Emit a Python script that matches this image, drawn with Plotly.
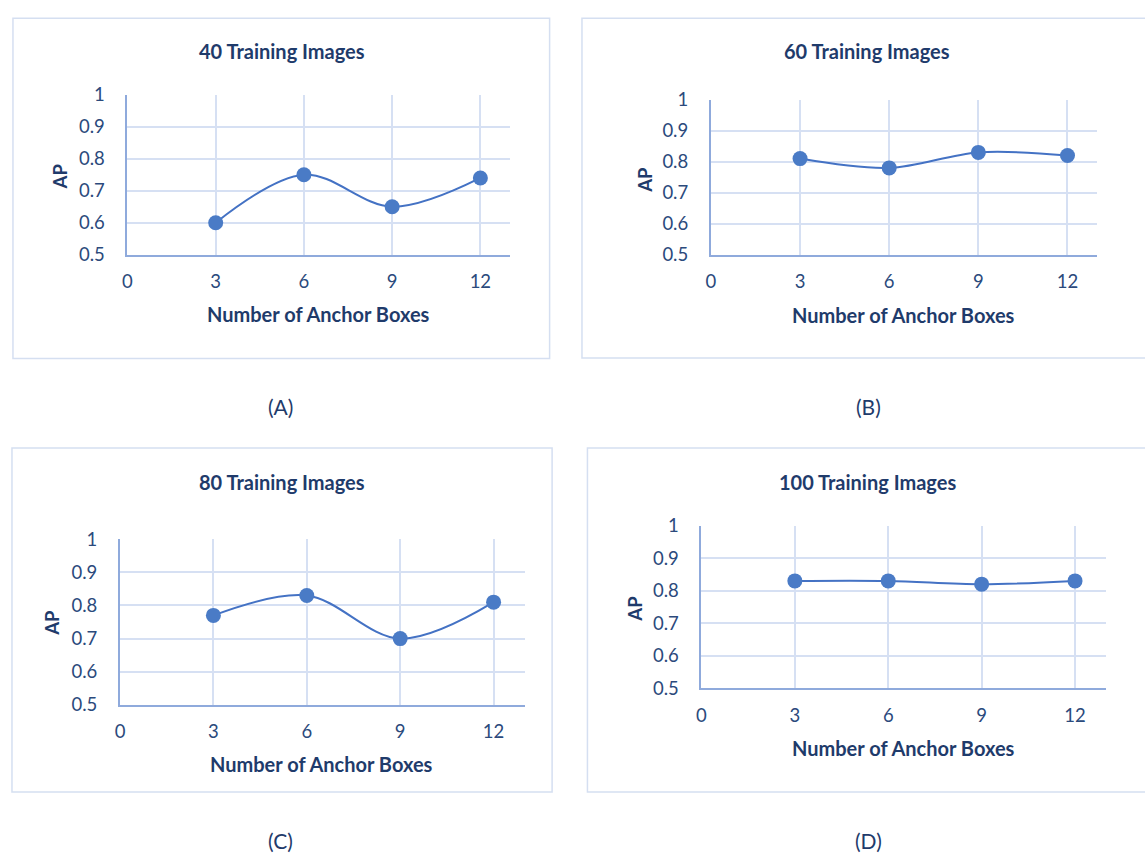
import plotly.graph_objects as go

W, H = 1145, 863

anchor_boxes = [3, 6, 9, 12]
ap_40 = [0.60, 0.75, 0.65, 0.74]
ap_60 = [0.81, 0.78, 0.83, 0.82]
ap_80 = [0.77, 0.83, 0.70, 0.81]
ap_100 = [0.83, 0.83, 0.82, 0.83]

titles = ["40 Training Images", "60 Training Images", "80 Training Images", "100 Training Images"]
captions = ["(A)", "(B)", "(C)", "(D)"]
x_ticks = [0, 3, 6, 9, 12]
y_ticks = [0.5, 0.6, 0.7, 0.8, 0.9, 1.0]
y_tick_text = ["0.5", "0.6", "0.7", "0.8", "0.9", "1"]
x_title = "Number of Anchor Boxes"
y_title = "AP"

FONT = "Lato"
NAVY = "#1F3B6B"
TICK = "#2B4A7C"
GRID = "#D6E0F3"
AXIS = "#8FAADC"
BORDER = "#D5DFF1"
LINE = "#4472C4"
MARK = "#4A7BC6"

def px(x):
    return x / W

def py(y):
    return 1 - y / H

# layout in pixels: plot area (x0, x1, ytop, ybottom), panel box (x0, x1, y0, y1)
panels = [
    dict(data=ap_40, plot=(123, 507, 85, 249), box=(8, 547, 6.5, 355.5), title=(278, 40),
         ap=(55, 169), xt=(315, 310), cap=(277, 405)),
    dict(data=ap_60, plot=(709, 1097, 90, 249), box=(579.5, 1160, 6.5, 355), title=(866, 40),
         ap=(642, 172), xt=(902, 311), cap=(867, 405)),
    dict(data=ap_80, plot=(115.5, 522, 541, 711), box=(7, 549.5, 447.5, 800.5), title=(278, 482),
         ap=(47, 627), xt=(318, 772), cap=(277, 850)),
    dict(data=ap_100, plot=(699.5, 1106, 527, 694), box=(585, 1160, 447.5, 800.5), title=(866.5, 482),
         ap=(633, 612), xt=(902.5, 755), cap=(867, 850)),
]

fig = go.Figure()
shapes = []
annotations = []
layout_axes = {}

for i, p in enumerate(panels):
    n = "" if i == 0 else str(i + 1)
    fig.add_trace(go.Scatter(
        x=anchor_boxes, y=p["data"], mode="lines+markers",
        line=dict(color=LINE, width=2, shape="spline", smoothing=1.0),
        marker=dict(color=MARK, size=15, line=dict(width=0)),
        xaxis="x" + n, yaxis="y" + n, showlegend=False, cliponaxis=False,
    ))
    x0, x1, yt, yb = p["plot"]
    layout_axes["xaxis" + n] = dict(
        domain=[px(x0), px(x1)], range=[0, 13], anchor="y" + n,
        tickvals=x_ticks, showgrid=True, gridcolor=GRID, gridwidth=1.5,
        showline=True, linecolor=AXIS, linewidth=2, zeroline=False,
        ticks="", ticklabelstandoff=9,
        tickfont=dict(family=FONT, size=18.5, color=TICK), fixedrange=True,
    )
    layout_axes["yaxis" + n] = dict(
        domain=[py(yb), py(yt)], range=[0.5, 1.0], anchor="x" + n,
        tickvals=y_ticks, ticktext=y_tick_text, showgrid=True, gridcolor=GRID, gridwidth=1.5,
        showline=True, linecolor=AXIS, linewidth=2, zeroline=False,
        ticks="", ticklabelstandoff=17,
        tickfont=dict(family=FONT, size=18.5, color=TICK), fixedrange=True,
    )
    bx0, bx1, by0, by1 = p["box"]
    shapes.append(dict(type="rect", xref="paper", yref="paper",
                       x0=px(bx0), x1=px(bx1), y0=py(by1), y1=py(by0),
                       line=dict(color=BORDER, width=1.5), layer="below"))
    annotations.append(dict(text="<b>%s</b>" % titles[i], x=px(p["title"][0]), y=py(p["title"][1]),
                            xref="paper", yref="paper", showarrow=False, xanchor="center", yanchor="middle",
                            font=dict(family=FONT, size=20, color=NAVY)))
    annotations.append(dict(text="<b>%s</b>" % y_title, x=px(p["ap"][0]), y=py(p["ap"][1]),
                            xref="paper", yref="paper", showarrow=False, xanchor="center", yanchor="middle",
                            textangle=-90, font=dict(family=FONT, size=18.5, color=NAVY)))
    annotations.append(dict(text="<b>%s</b>" % x_title, x=px(p["xt"][0]), y=py(p["xt"][1]),
                            xref="paper", yref="paper", showarrow=False, xanchor="center", yanchor="middle",
                            font=dict(family=FONT, size=20, color=NAVY)))
    annotations.append(dict(text=captions[i], x=px(p["cap"][0]), y=py(p["cap"][1]),
                            xref="paper", yref="paper", showarrow=False, xanchor="center", yanchor="middle",
                            font=dict(family=FONT, size=21, color=NAVY)))

fig.update_layout(
    width=W, height=H, margin=dict(l=0, r=0, t=0, b=0),
    paper_bgcolor="white", plot_bgcolor="white",
    shapes=shapes, annotations=annotations, **layout_axes,
)

fig.write_html("out.html", config={"displayModeBar": False},
               post_script="document.body.style.margin='0';document.body.style.overflow='hidden';")
